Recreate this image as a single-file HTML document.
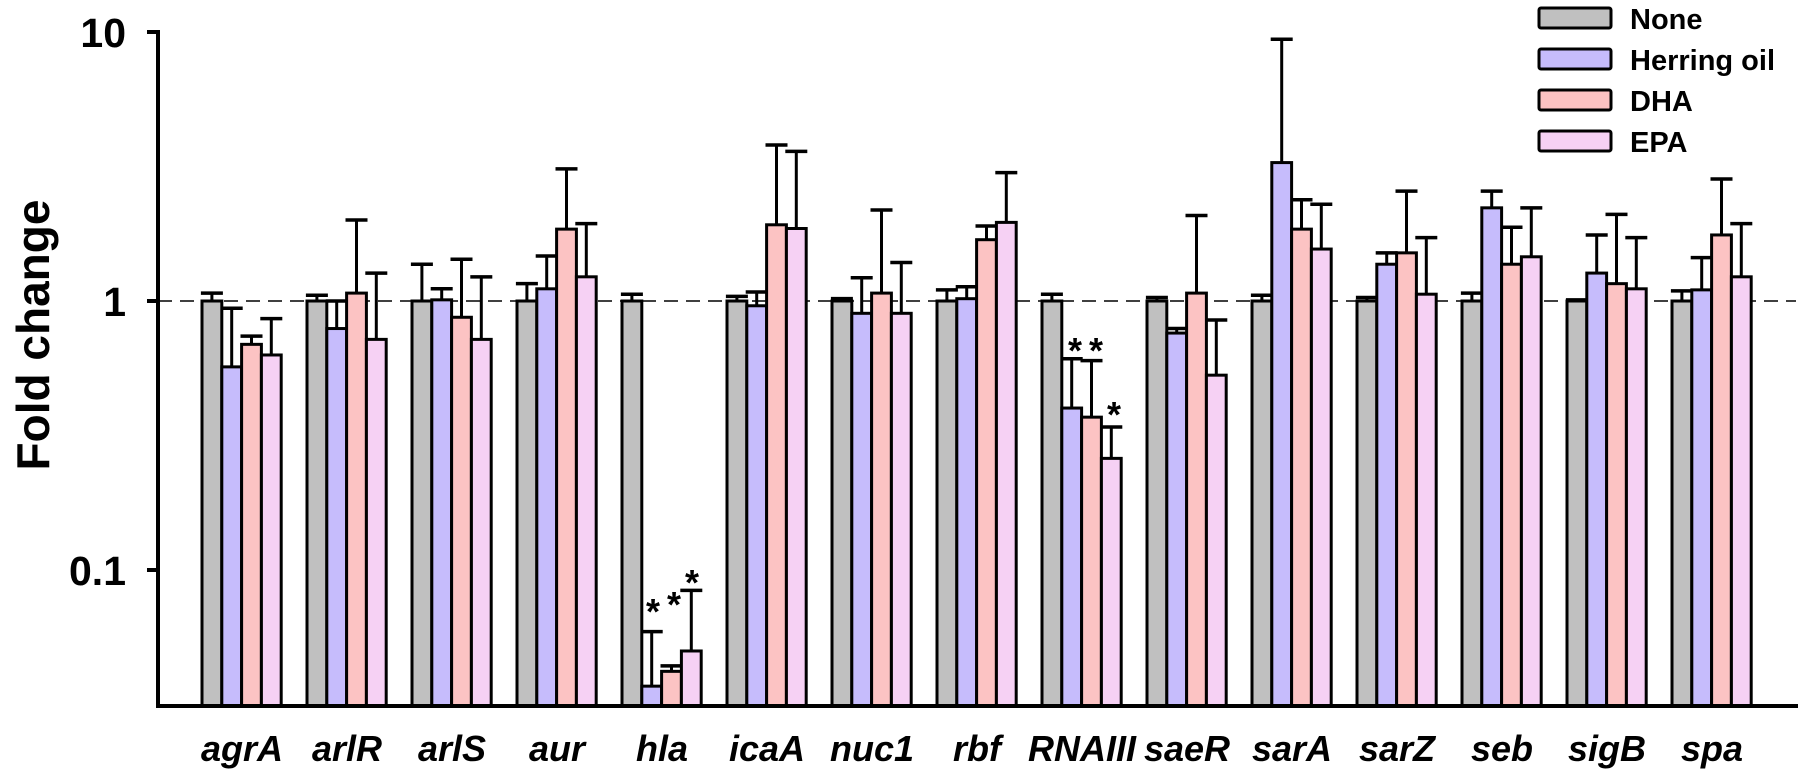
<!DOCTYPE html>
<html><head><meta charset="utf-8"><style>
html,body{margin:0;padding:0;background:#fff;}
svg{display:block;font-family:"Liberation Sans",Arial,sans-serif;}
</style></head><body>
<svg id="c" width="1806" height="777" viewBox="0 0 1806 777" xmlns="http://www.w3.org/2000/svg">
<rect width="1806" height="777" fill="#fff"/>
<line x1="158" y1="301" x2="1796" y2="301" stroke="#000" stroke-width="1.6" stroke-dasharray="14,8"/>
<g id="bars"></g>
<path d="M147 32 H158 V706 H1798" fill="none" stroke="#000" stroke-width="4"/>
<line x1="147" y1="301" x2="158" y2="301" stroke="#000" stroke-width="4"/>
<line x1="147" y1="570" x2="158" y2="570" stroke="#000" stroke-width="4"/>
<g font-weight="bold" font-size="41" text-anchor="end">
<text x="126" y="47">10</text>
<text x="126" y="316">1</text>
<text x="126" y="585">0.1</text>
</g>
<text x="0" y="0" font-weight="bold" font-size="46" text-anchor="middle" transform="translate(49,335) rotate(-90)">Fold change</text>
<g font-weight="bold" font-size="29">
<rect x="1539" y="8" width="72" height="20" fill="#c0c0c0" stroke="#000" stroke-width="3" rx="2"/>
<text x="1630" y="29">None</text>
<rect x="1539" y="49" width="72" height="20" fill="#c6bcfc" stroke="#000" stroke-width="3" rx="2"/>
<text x="1630" y="70">Herring oil</text>
<rect x="1539" y="90" width="72" height="20" fill="#fcc3c3" stroke="#000" stroke-width="3" rx="2"/>
<text x="1630" y="111">DHA</text>
<rect x="1539" y="131" width="72" height="20" fill="#f6d1f4" stroke="#000" stroke-width="3" rx="2"/>
<text x="1630" y="152">EPA</text>
</g>
<g id="labels" font-weight="bold" font-style="italic" font-size="36" text-anchor="middle"></g>
<g font-weight="bold" font-size="36" text-anchor="middle">
<text x="653" y="624">*</text>
<text x="674" y="617">*</text>
<text x="692" y="595">*</text>
<text x="1075" y="363">*</text>
<text x="1096" y="363">*</text>
<text x="1114" y="427">*</text>
</g>
</svg>
<script>
var names=["agrA","arlR","arlS","aur","hla","icaA","nuc1","rbf","RNAIII","saeR","sarA","sarZ","seb","sigB","spa"];
var d=[
[[1,1.07],[0.569,0.94],[0.69,0.74],[0.63,0.86]],
[[1,1.05],[0.79,1.0],[1.07,2.0],[0.72,1.27]],
[[1,1.37],[1.01,1.11],[0.87,1.43],[0.72,1.23]],
[[1,1.16],[1.11,1.47],[1.85,3.1],[1.23,1.94]],
[[1,1.06],[0.037,0.059],[0.042,0.044],[0.050,0.084]],
[[1,1.04],[0.96,1.08],[1.92,3.8],[1.86,3.6]],
[[1,1.02],[0.9,1.22],[1.07,2.18],[0.9,1.39]],
[[1,1.1],[1.02,1.13],[1.69,1.9],[1.96,3.0]],
[[1,1.06],[0.40,0.61],[0.37,0.60],[0.26,0.34]],
[[1,1.03],[0.76,0.79],[1.07,2.08],[0.53,0.85]],
[[1,1.05],[3.27,9.4],[1.85,2.38],[1.56,2.29]],
[[1,1.03],[1.37,1.51],[1.51,2.56],[1.06,1.72]],
[[1,1.07],[2.22,2.56],[1.37,1.88],[1.46,2.22]],
[[1,1.01],[1.27,1.76],[1.16,2.1],[1.11,1.72]],
[[1,1.09],[1.10,1.45],[1.76,2.84],[1.23,1.94]]];
var cols=["#c0c0c0","#c6bcfc","#fcc3c3","#f6d1f4"];
function Y(v){return 301-269*Math.log10(v);}
var s="",l="";
for(var g=0;g<15;g++){
 var x0=202+105*g;
 for(var i=0;i<4;i++){
  var x=x0+i*19.8,w=19.8,v=d[g][i][0],e=d[g][i][1];
  var yt=Y(v),ye=Y(e),cx=x+w/2;
  if(e>v){s+='<line x1="'+cx+'" y1="'+yt+'" x2="'+cx+'" y2="'+ye+'" stroke="#000" stroke-width="3"/>';
  s+='<line x1="'+(cx-11)+'" y1="'+ye+'" x2="'+(cx+11)+'" y2="'+ye+'" stroke="#000" stroke-width="3.5"/>';}
  s+='<rect x="'+x+'" y="'+yt+'" width="'+w+'" height="'+(706-yt)+'" fill="'+cols[i]+'" stroke="#000" stroke-width="3"/>';
 }
 l+='<text x="'+(x0+40)+'" y="761">'+names[g]+'</text>';
}
document.getElementById("bars").innerHTML=s;
document.getElementById("labels").innerHTML=l;
</script>
</body></html>
